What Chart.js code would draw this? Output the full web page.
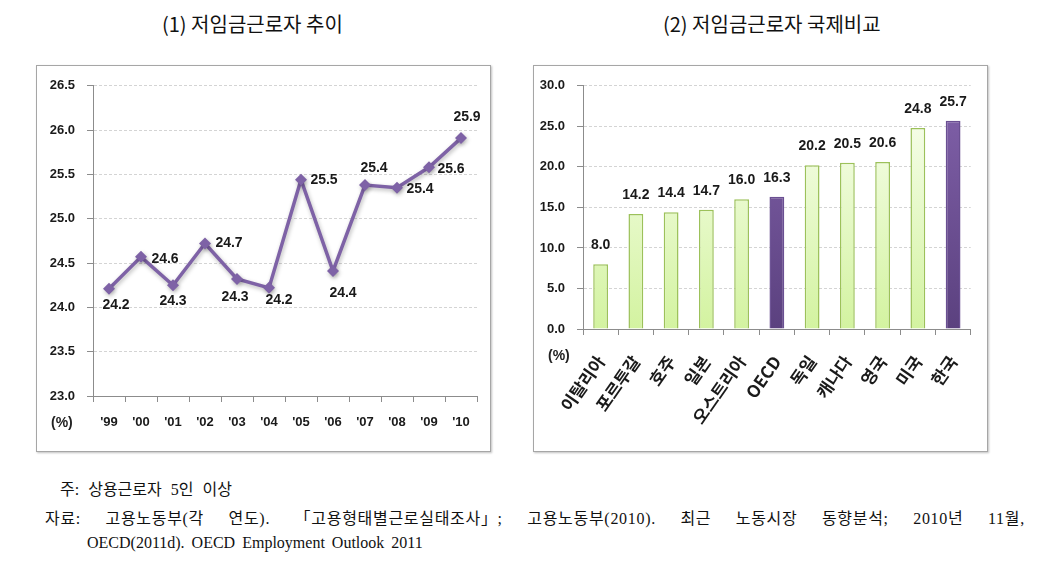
<!DOCTYPE html>
<html>
<head>
<meta charset="utf-8">
<script src="https://cdn.jsdelivr.net/npm/chart.js@4.4.1/dist/chart.umd.min.js"></script>
<style>
  html, body { margin: 0; padding: 0; background: #fff; }
  body { width: 1051px; height: 572px; position: relative; overflow: hidden; font-family: 'Noto Sans CJK KR', sans-serif; }
  .title { position: absolute; top: 9px; font-size: 20px; color: #111; white-space: nowrap; font-family: 'Noto Sans CJK KR', sans-serif; }
  .panel { position: absolute; top: 65px; width: 453px; height: 385px; border: 1px solid #a6a6a6; box-shadow: 1px 1px 2px rgba(0,0,0,0.25); background: #fff; }
  .pct { position: absolute; font-size: 14px; font-weight: bold; color: #222; font-family: 'Liberation Sans', 'Noto Sans CJK KR', sans-serif; }
  .note { position: absolute; font-family: 'Liberation Serif', 'Noto Sans CJK KR', serif; font-size: 16px; color: #111; white-space: nowrap; }
  .row { display: flex; justify-content: space-between; letter-spacing: 0.7px; }
</style>
</head>
<body>
<div class="title" style="left:162px;">(1) 저임금근로자 추이</div>
<div class="title" style="left:663px;">(2) 저임금근로자 국제비교</div>

<div class="panel" style="left:36px;"><canvas id="c1"></canvas></div>
<div class="panel" style="left:533px;"><canvas id="c2"></canvas></div>

<div class="pct" style="left:51px; top:414px;">(%)</div>
<div class="pct" style="left:548px; top:347px;">(%)</div>

<div class="note" style="left:60px; top:476px; word-spacing:5px;">주: 상용근로자 5인 이상</div>
<div class="note row" style="left:45px; top:505px; width:980px;">
  <span>자료:</span><span>고용노동부(각</span><span>연도).</span><span>「고용형태별근로실태조사」;</span><span>고용노동부(2010).</span><span>최근</span><span>노동시장</span><span>동향분석;</span><span>2010년</span><span>11월,</span>
</div>
<div class="note" style="left:87px; top:534px; word-spacing:3px;">OECD(2011d). OECD Employment Outlook 2011</div>

<script>
// ---------- data ----------
const years = ["'99", "'00", "'01", "'02", "'03", "'04", "'05", "'06", "'07", "'08", "'09", "'10"];
const lowWageShare = [24.21, 24.57, 24.25, 24.72, 24.32, 24.22, 25.44, 24.41, 25.38, 25.35, 25.58, 25.91];
const lowWageLabels = ["24.2", "24.6", "24.3", "24.7", "24.3", "24.2", "25.5", "24.4", "25.4", "25.4", "25.6", "25.9"];
const yTicks1 = [23.0, 23.5, 24.0, 24.5, 25.0, 25.5, 26.0, 26.5];

const countries = ["이탈리아", "포르투갈", "호주", "일본", "오스트리아", "OECD", "독일", "캐나다", "영국", "미국", "한국"];
const countryShare = [8.0, 14.2, 14.4, 14.7, 16.0, 16.3, 20.2, 20.5, 20.6, 24.8, 25.7];
const highlighted = [false, false, false, false, false, true, false, false, false, false, true];
const yTicks2 = [0, 5, 10, 15, 20, 25, 30];

// label placement (pixel offsets, style only)
const labelOffsets1 = [[7,16],[24,2],[0,16],[24,0],[-2,18],[10,12],[23,0],[10,22],[9,-17],[23,1],[22,2],[6,-21]];

// ---------- shared styles ----------
const NUM_FONT = "'Liberation Sans', 'Noto Sans CJK KR', sans-serif";
const TXT = '#1a1a1a';
const AX = '#8c8c8c';
const GRID = '#d4d4d4';
Chart.defaults.animation = false;

const shadowPlugin = {
  id: 'lineShadow',
  beforeDatasetDraw(chart) {
    const ctx = chart.ctx; ctx.save();
    ctx.shadowColor = 'rgba(0,0,0,0.28)'; ctx.shadowBlur = 4; ctx.shadowOffsetX = 1; ctx.shadowOffsetY = 2;
  },
  afterDatasetDraw(chart) { chart.ctx.restore(); }
};

const lineLabels = {
  id: 'lineLabels',
  afterDatasetsDraw(chart) {
    const ctx = chart.ctx;
    const meta = chart.getDatasetMeta(0);
    ctx.save();
    ctx.font = 'bold 14px ' + NUM_FONT;
    ctx.fillStyle = TXT; ctx.textAlign = 'center'; ctx.textBaseline = 'middle';
    meta.data.forEach((pt, i) => {
      const o = labelOffsets1[i];
      ctx.fillText(lowWageLabels[i], pt.x + o[0], pt.y + o[1]);
    });
    ctx.restore();
  }
};

const barLabels = {
  id: 'barLabels',
  afterDatasetsDraw(chart) {
    const ctx = chart.ctx;
    const meta = chart.getDatasetMeta(0);
    ctx.save();
    ctx.font = 'bold 14px ' + NUM_FONT;
    ctx.fillStyle = TXT; ctx.textAlign = 'center'; ctx.textBaseline = 'middle';
    meta.data.forEach((bar, i) => {
      ctx.fillText(countryShare[i].toFixed(1), bar.x, bar.y - 19);
    });
    ctx.restore();
  }
};

// ---------- chart 1 ----------
new Chart(document.getElementById('c1'), {
  type: 'line',
  data: {
    labels: years,
    datasets: [{
      data: lowWageShare,
      borderColor: '#7e62a6',
      backgroundColor: '#7e62a6',
      borderWidth: 3.5,
      pointStyle: 'rectRot',
      pointRadius: 6,
      pointBorderWidth: 0,
      tension: 0,
      fill: false
    }]
  },
  options: {
    responsive: true, maintainAspectRatio: false,
    layout: { padding: { top: 19, right: 13, left: 0, bottom: 0 } },
    plugins: { legend: { display: false }, tooltip: { enabled: false } },
    scales: {
      x: {
        type: 'category', offset: true,
        grid: { display: true, drawOnChartArea: false, drawTicks: true, tickLength: 6, offset: true, color: AX, tickColor: AX },
        border: { color: AX, width: 1 },
        ticks: { color: TXT, font: { family: NUM_FONT, size: 13, weight: 'bold' }, padding: 13, maxRotation: 0, minRotation: 0 },
        afterFit: s => { s.height = 55; }
      },
      y: {
        min: 23, max: 26.5,
        afterBuildTicks: s => { s.ticks = yTicks1.map(v => ({ value: v })); },
        grid: { color: GRID, tickColor: AX, tickLength: 6, tickBorderDash: [] },
        border: { color: AX, width: 1, dash: [3, 2] },
        ticks: { color: TXT, font: { family: NUM_FONT, size: 13, weight: 'bold' }, padding: 12, callback: v => Number(v).toFixed(1) },
        afterFit: s => { s.width = 56; }
      }
    }
  },
  plugins: [shadowPlugin, lineLabels]
});

// ---------- chart 2 ----------
function barFill(context) {
  const chart = context.chart;
  const area = chart.chartArea;
  if (!area) return '#dff5b8';
  const hi = highlighted[context.dataIndex];
  const g = chart.ctx.createLinearGradient(0, area.top, 0, area.bottom);
  if (hi) { g.addColorStop(0, '#8262ab'); g.addColorStop(1, '#5b417f'); }
  else { g.addColorStop(0, '#fbfff4'); g.addColorStop(1, '#d3f3a0'); }
  return g;
}

new Chart(document.getElementById('c2'), {
  type: 'bar',
  data: {
    labels: countries,
    datasets: [{
      data: countryShare,
      backgroundColor: barFill,
      borderColor: ctx => highlighted[ctx.dataIndex] ? '#6a4f92' : '#9cc15a',
      borderWidth: 1.5,
      barPercentage: 0.42,
      categoryPercentage: 1.0
    }]
  },
  options: {
    responsive: true, maintainAspectRatio: false,
    layout: { padding: { top: 19, right: 4, left: 0, bottom: 0 } },
    plugins: { legend: { display: false }, tooltip: { enabled: false } },
    scales: {
      x: {
        type: 'category', offset: true,
        grid: { display: true, drawOnChartArea: false, drawTicks: true, tickLength: 6, offset: true, color: AX, tickColor: AX },
        border: { color: AX, width: 1 },
        ticks: { color: TXT, font: { family: "'Noto Sans CJK KR', sans-serif", size: 17, weight: 'bold' }, padding: 17, maxRotation: 55, minRotation: 55, autoSkip: false },
        afterFit: s => { s.height = 122; }
      },
      y: {
        min: 0, max: 30,
        afterBuildTicks: s => { s.ticks = yTicks2.map(v => ({ value: v })); },
        grid: { color: GRID, tickColor: AX, tickLength: 6, tickBorderDash: [] },
        border: { color: AX, width: 1, dash: [3, 2] },
        ticks: { color: TXT, font: { family: NUM_FONT, size: 13, weight: 'bold' }, padding: 12, callback: v => Number(v).toFixed(1) },
        afterFit: s => { s.width = 49; }
      }
    }
  },
  plugins: [barLabels]
});
</script>
</body>
</html>
